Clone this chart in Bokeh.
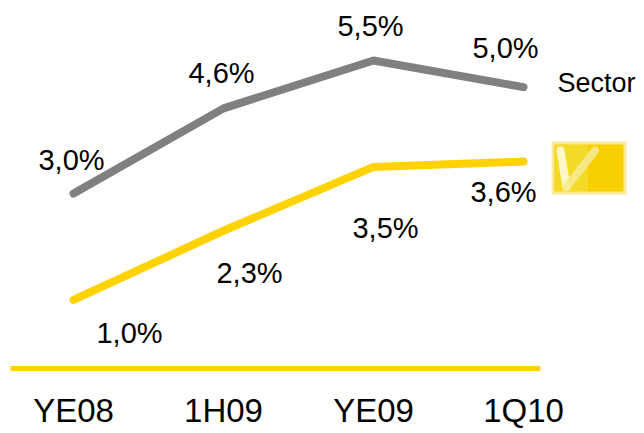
from bokeh.plotting import figure
from bokeh.models import ColumnDataSource, FixedTicker, Range1d
from bokeh.core.properties import value
from bokeh.embed import file_html
from bokeh.resources import INLINE

# ---- data ----
categories = ["YE08", "1H09", "YE09", "1Q10"]
sector_values = [3.0, 4.6, 5.5, 5.0]
bank_values = [1.0, 2.3, 3.5, 3.6]
series_name = "Sector"

# ---- styling ----
GRAY = "#808080"
YELLOW = "#FFD200"
FONT = "Liberation Sans"

def fmt(v):
    return f"{v:.1f}".replace(".", ",") + "%"

xs = list(range(len(categories)))

p = figure(width=644, height=433, output_backend="svg", toolbar_location=None,
           x_range=Range1d(-0.4867, 3.8067), y_range=Range1d(-0.5338, 6.628),
           min_border=0, min_border_bottom=52, y_axis_location=None)
p.outline_line_color = None
p.xgrid.visible = False
p.ygrid.visible = False
p.background_fill_color = "white"

# baseline
p.segment(x0=[-0.42], y0=[-0.29], x1=[3.113], y1=[-0.29], line_color=YELLOW, line_width=5)

# lines
p.line(xs, sector_values, line_color=GRAY, line_width=8, line_cap="round", line_join="round")
p.line(xs, bank_values, line_color=YELLOW, line_width=8, line_cap="round", line_join="round")

# data labels
sec_src = ColumnDataSource(dict(x=xs, y=sector_values, t=[fmt(v) for v in sector_values],
                                dx=[-2, -2, -3, -18], dy=[-34, -35, -35, -39]))
bank_src = ColumnDataSource(dict(x=xs, y=bank_values, t=[fmt(v) for v in bank_values],
                                 dx=[56, 26, 12, -20], dy=[33, 42, 61, 30]))
for src in (sec_src, bank_src):
    p.text(x="x", y="y", text="t", x_offset="dx", y_offset="dy", source=src,
           text_font=value(FONT), text_font_size="29px", text_color="#000000",
           text_align="center", text_baseline="alphabetic")

# series label
p.text(x=[xs[-1]], y=[sector_values[-1]], text=[series_name], x_offset=34, y_offset=-4,
       text_font=value(FONT), text_font_size="27px", text_color="#000000",
       text_align="left", text_baseline="alphabetic")

# logo (decorative) next to the yellow line end
lx = xs[-1] + 0.437
ly = bank_values[-1] - 0.12
p.rect(x=[lx], y=[ly], width=72, height=50, width_units="screen", height_units="screen",
       fill_color="#F8CF00", line_color="#FBEA9A", line_width=3)
p.rect(x=[lx - 0.12], y=[ly], width=34, height=46, width_units="screen", height_units="screen",
       fill_color="#F2DC30", line_color=None, fill_alpha=0.8)
p.multi_line(xs=[[lx - 0.19, lx - 0.15], [lx - 0.15, lx + 0.04]],
             ys=[[ly + 0.33, ly - 0.36], [ly - 0.36, ly + 0.33]],
             line_color=["#FFF9D0", "#F6EA8A"], line_width=[8, 8], line_alpha=0.95,
             line_cap="round")

# x axis
ax = p.xaxis[0]
ax.ticker = FixedTicker(ticks=xs)
ax.major_label_overrides = {i: c for i, c in enumerate(categories)}
ax.axis_line_color = None
ax.major_tick_line_color = None
ax.minor_tick_line_color = None
ax.major_label_standoff = 4
ax.major_label_text_font = FONT
ax.major_label_text_font_size = "33px"
ax.major_label_text_color = "#000000"

open("out.html", "w").write(file_html(p, INLINE))
